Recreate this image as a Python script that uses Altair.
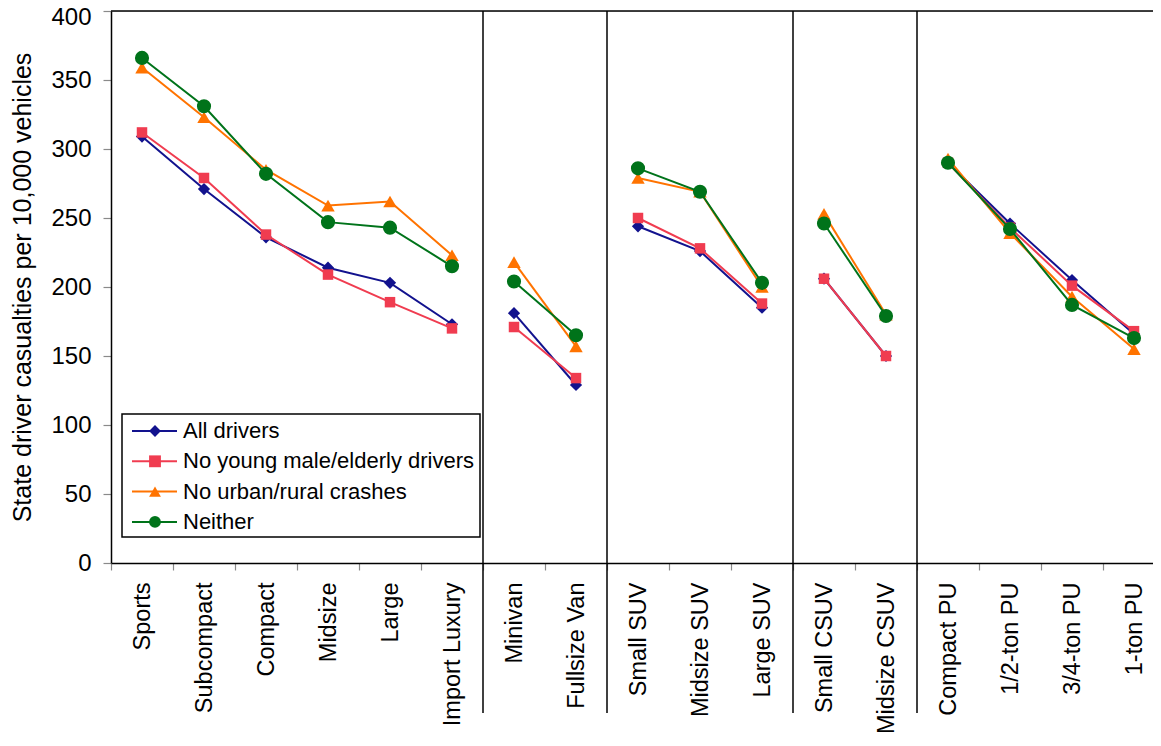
import json
import altair as alt
import pandas as pd

categories = ["Sports", "Subcompact", "Compact", "Midsize", "Large", "Import Luxury",
              "Minivan", "Fullsize Van", "Small SUV", "Midsize SUV", "Large SUV",
              "Small CSUV", "Midsize CSUV", "Compact PU", "1/2-ton PU", "3/4-ton PU", "1-ton PU"]
groups = ["Cars"] * 6 + ["Vans"] * 2 + ["SUVs"] * 3 + ["CUVs"] * 2 + ["Pickups"] * 4
series = ["All drivers", "No young male/elderly drivers", "No urban/rural crashes", "Neither"]

all_drivers = [309, 271, 236, 214, 203, 173, 181, 129, 244, 226, 185, 206, 150, 290, 246, 205, 166]
no_young    = [312, 279, 238, 209, 189, 170, 171, 134, 250, 228, 188, 206, 150, 290, 243, 201, 168]
no_urban    = [359, 323, 285, 259, 262, 223, 218, 157, 279, 269, 200, 253, 180, 293, 239, 193, 155]
neither     = [366, 331, 282, 247, 243, 215, 204, 165, 286, 269, 203, 246, 179, 290, 242, 187, 163]

colors = ["#12128e", "#f03c50", "#ff7300", "#00731a"]
shapes = ["diamond", "square", "triangle-up", "circle"]
sizes = [150, 110, 180, 200]

FONT = "Liberation Sans"
W, H = 1042, 552

rows = []
for s, vals in zip(series, [all_drivers, no_young, no_urban, neither]):
    for i, v in enumerate(vals):
        rows.append({"series": s, "idx": i, "value": v, "group": groups[i]})
df = pd.DataFrame(rows)

bounds = [i - 0.5 for i in range(1, len(groups)) if groups[i] != groups[i - 1]]
sep_df = pd.DataFrame({"b": bounds})

n = len(categories)
names_js = json.dumps(categories)
xscale = alt.Scale(domain=[-0.5, -0.5 + W / 62.0], nice=False, zero=False)
xaxis = alt.Axis(
    values=[i - 0.5 for i in range(n + 1)],
    labelExpr=f"datum.value < {n - 1} ? {names_js}[round(datum.value + 0.5)] : ''",
    labelOffset=31, labelAngle=270, labelFontSize=23.5, labelColor="black",
    labelPadding=12, labelOverlap=False, labelFlush=False, labelBound=False,
    tickSize=7, tickColor="#8a8a8a", tickWidth=1.2,
    domainColor="black", domainWidth=1.5, grid=False, title=None, labelFont=FONT,
)
yaxis = alt.Axis(
    values=list(range(0, 401, 50)), tickSize=8, tickColor="#8a8a8a", tickWidth=1.2,
    labelFontSize=24, labelColor="black", labelPadding=12, labelFont=FONT,
    labelOffset={"condition": {"test": "datum.value == 400", "value": 6}, "value": 0},
    title="State driver casualties per 10,000 vehicles", titleFontSize=25,
    titleFontWeight="normal", titleColor="black", titlePadding=15, titleFont=FONT,
    domainColor="black", domainWidth=1.5, grid=False,
)
yscale = alt.Scale(domain=[0, 400], nice=False, zero=True)

base = alt.Chart(df)
layers = []
top_border = alt.Chart(pd.DataFrame({"a": [0]})).mark_rule(color="black", strokeWidth=1.5).encode(
    x=alt.value(0), x2=alt.value(W + 20), y=alt.value(0)
)
seps = alt.Chart(sep_df).mark_rule(color="black", strokeWidth=1.5).encode(
    x=alt.X("b:Q", scale=xscale, axis=xaxis),
    y=alt.value(0), y2=alt.value(702),
)
layers += [top_border, seps]
for s, c, sh, sz in zip(series, colors, shapes, sizes):
    sub = base.transform_filter(alt.datum.series == s)
    line = sub.mark_line(color=c, strokeWidth=2).encode(
        x=alt.X("idx:Q", scale=xscale, axis=xaxis),
        y=alt.Y("value:Q", scale=yscale, axis=yaxis),
        detail="group:N",
    )
    pts = sub.mark_point(shape=sh, size=sz, filled=True, color=c, opacity=1).encode(
        x=alt.X("idx:Q", scale=xscale, axis=xaxis),
        y=alt.Y("value:Q", scale=yscale, axis=yaxis),
    )
    layers += [line, pts]
main = alt.layer(*layers)

# custom legend (pixel positions)
leg_df = pd.DataFrame({"series": series, "row": list(range(len(series)))})
leg_base = alt.Chart(leg_df).transform_calculate(ly="420 + datum.row * 30.3")
ly = alt.Y("ly:Q", scale=None, axis=None)
box = alt.Chart(pd.DataFrame({"a": [0]})).mark_rect(
    fill="white", stroke="black", strokeWidth=1.5
).encode(x=alt.value(11), x2=alt.value(369), y=alt.value(403), y2=alt.value(526))
cscale = alt.Scale(domain=series, range=colors)
leg_lines = leg_base.mark_rule(strokeWidth=2).encode(
    x=alt.value(21), x2=alt.value(66), y=ly,
    color=alt.Color("series:N", scale=cscale, legend=None),
)
leg_pts = leg_base.mark_point(filled=True, size=140, opacity=1).encode(
    x=alt.value(44), y=ly,
    color=alt.Color("series:N", scale=cscale, legend=None),
    shape=alt.Shape("series:N", scale=alt.Scale(domain=series, range=shapes), legend=None),
)
leg_txt = leg_base.mark_text(align="left", baseline="middle", fontSize=22,
                             font=FONT, color="black").encode(
    x=alt.value(72), y=ly, text="series:N",
)
legend = alt.layer(box, leg_lines, leg_pts, leg_txt)

chart = alt.layer(main, legend).resolve_scale(
    x="independent", y="independent", color="independent", shape="independent"
).properties(
    width=W, height=H,
    autosize=alt.AutoSizeParams(type="none"),
    padding={"left": 103, "top": 3, "right": 0, "bottom": 170},
).configure_view(stroke="transparent").configure(font=FONT, background="white")

chart.save("out.html", embed_options={"renderer": "svg", "actions": False})
